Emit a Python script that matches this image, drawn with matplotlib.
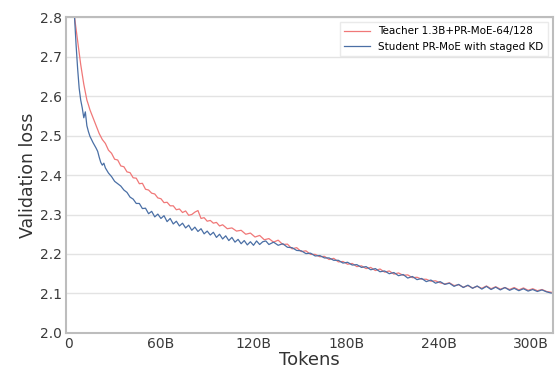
import numpy as np
import matplotlib.pyplot as plt

# tokens in billions
teacher_x = [4, 5, 6, 7, 8, 9, 10, 11, 12, 13, 14, 16, 18, 20, 22, 24, 26, 28, 30, 32, 34, 36, 38, 40,
             42, 44, 46, 48, 50, 52, 54, 56, 58, 60, 62, 64, 66, 68, 70, 72, 74, 76, 78, 80, 82, 84,
             86, 88, 90, 92, 94, 96, 98, 100, 103, 106, 109, 112, 115, 118, 121, 124, 127, 130, 133,
             136, 139, 142, 145, 148, 151, 154, 157, 160, 163, 166, 169, 172, 175, 178, 181, 184, 187,
             190, 193, 196, 199, 202, 205, 208, 211, 214, 217, 220, 223, 226, 229, 232, 235, 238, 241,
             244, 247, 250, 253, 256, 259, 262, 265, 268, 271, 274, 277, 280, 283, 286, 289, 292, 295,
             298, 301, 304, 307, 310, 313]
teacher_y = [2.80, 2.77, 2.74, 2.71, 2.68, 2.655, 2.63, 2.61, 2.59, 2.578, 2.565, 2.545, 2.525, 2.505,
             2.49, 2.480, 2.463, 2.455, 2.440, 2.438, 2.423, 2.421, 2.408, 2.406, 2.393, 2.392, 2.378,
             2.379, 2.364, 2.362, 2.354, 2.352, 2.342, 2.340, 2.330, 2.331, 2.322, 2.322, 2.312, 2.314,
             2.305, 2.309, 2.298, 2.300, 2.306, 2.310, 2.290, 2.292, 2.283, 2.285, 2.278, 2.280, 2.271,
             2.274, 2.264, 2.266, 2.258, 2.260, 2.250, 2.253, 2.243, 2.247, 2.236, 2.239, 2.230, 2.235,
             2.224, 2.225, 2.213, 2.216, 2.206, 2.208, 2.199, 2.199, 2.193, 2.194, 2.186, 2.189, 2.180,
             2.181, 2.174, 2.176, 2.168, 2.170, 2.163, 2.166, 2.158, 2.162, 2.154, 2.157, 2.149, 2.152,
             2.146, 2.147, 2.140, 2.141, 2.136, 2.136, 2.131, 2.132, 2.127, 2.124, 2.127, 2.120, 2.122,
             2.116, 2.120, 2.114, 2.118, 2.113, 2.119, 2.112, 2.117, 2.111, 2.115, 2.110, 2.115, 2.109,
             2.114, 2.108, 2.112, 2.107, 2.110, 2.105, 2.103]

student_x = [4, 5, 6, 7, 8, 9, 10, 11, 12, 13, 14, 15, 16, 17, 18, 19, 20, 21, 22, 23, 24, 26, 28, 30,
             32, 34, 36, 38, 40, 42, 44, 46, 48, 50, 52, 54, 56, 58, 60, 62, 64, 66, 68, 70, 72, 74,
             76, 78, 80, 82, 84, 86, 88, 90, 92, 94, 96, 98, 100, 102, 104, 106, 108, 110, 112, 114,
             116, 118, 120, 122, 124, 126, 128, 130, 133, 136, 139, 142, 145, 148, 151, 154, 157, 160,
             163, 166, 169, 172, 175, 178, 181, 184, 187, 190, 193, 196, 199, 202, 205, 208, 211, 214,
             217, 220, 223, 226, 229, 232, 235, 238, 241, 244, 247, 250, 253, 256, 259, 262, 265, 268,
             271, 274, 277, 280, 283, 286, 289, 292, 295, 298, 301, 304, 307, 310, 313]
student_y = [2.80, 2.73, 2.67, 2.62, 2.59, 2.57, 2.545, 2.56, 2.525, 2.51, 2.498, 2.49, 2.482, 2.475,
             2.468, 2.46, 2.445, 2.432, 2.425, 2.43, 2.418, 2.405, 2.396, 2.384, 2.378, 2.372, 2.362,
             2.356, 2.344, 2.339, 2.328, 2.328, 2.315, 2.316, 2.302, 2.308, 2.294, 2.301, 2.290, 2.297,
             2.282, 2.290, 2.276, 2.283, 2.271, 2.278, 2.266, 2.273, 2.260, 2.268, 2.257, 2.264, 2.251,
             2.258, 2.248, 2.255, 2.242, 2.250, 2.238, 2.246, 2.234, 2.242, 2.230, 2.237, 2.226, 2.234,
             2.223, 2.231, 2.222, 2.233, 2.224, 2.231, 2.233, 2.224, 2.230, 2.222, 2.226, 2.217, 2.216,
             2.209, 2.208, 2.201, 2.202, 2.195, 2.196, 2.190, 2.190, 2.184, 2.184, 2.177, 2.179, 2.172,
             2.173, 2.166, 2.168, 2.160, 2.163, 2.155, 2.157, 2.150, 2.153, 2.145, 2.148, 2.139, 2.143,
             2.135, 2.138, 2.130, 2.134, 2.126, 2.130, 2.123, 2.126, 2.118, 2.123, 2.115, 2.121, 2.113,
             2.119, 2.111, 2.118, 2.110, 2.116, 2.109, 2.115, 2.108, 2.113, 2.107, 2.112, 2.106, 2.110,
             2.105, 2.109, 2.104, 2.101]

xticks = [0, 60, 120, 180, 240, 300]
xtick_labels = ['0', '60B', '120B', '180B', '240B', '300B']
yticks = [2.0, 2.1, 2.2, 2.3, 2.4, 2.5, 2.6, 2.7, 2.8]

fig = plt.figure(figsize=(5.55, 3.72), dpi=100)
ax = fig.add_axes([0.119, 0.105, 0.877, 0.849])

ax.plot(teacher_x, teacher_y, color='#f07878', lw=0.9, label='Teacher 1.3B+PR-MoE-64/128')
ax.plot(student_x, student_y, color='#4a6fa5', lw=0.9, label='Student PR-MoE with staged KD')

ax.set_xlim(-1.5, 314)
ax.set_ylim(2.0, 2.8)
ax.set_xticks(xticks)
ax.set_xticklabels(xtick_labels)
ax.set_yticks(yticks)
ax.yaxis.grid(True, color='#e3e3e3', lw=1.0)
ax.set_axisbelow(True)

for s in ax.spines.values():
    s.set_color('#bdbdbd')
    s.set_linewidth(1.5)
ax.tick_params(length=0, labelsize=10, colors='#3a3a3a', pad=3)

ax.set_xlabel('Tokens', fontsize=13, color='#333333', labelpad=0)
ax.set_ylabel('Validation loss', fontsize=12.5, color='#333333', labelpad=2)

leg = ax.legend(loc='upper right', fontsize=7.5, frameon=True, handlelength=2.5,
                borderaxespad=0.5, fancybox=False)
leg.get_frame().set_edgecolor('#e5e5e5')

plt.savefig('out.png', dpi=100)
